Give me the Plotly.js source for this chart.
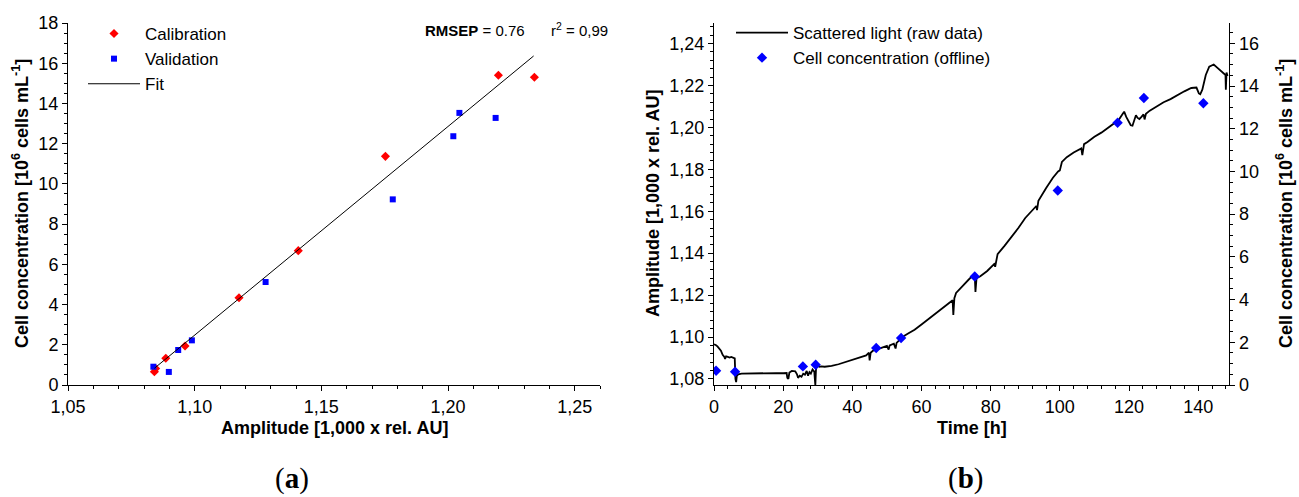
<!DOCTYPE html>
<html>
<head>
<meta charset="utf-8">
<script src="https://cdn.plot.ly/plotly-3.0.1.min.js"></script>
<style>html,body{margin:0;padding:0;background:#fff;}#chart{width:1299px;height:497px;}</style>
</head>
<body>
<div id="chart"></div>
<script>
// ---- Panel (a): calibration / validation ----
const calibAmp = [1.0841, 1.0846, 1.0886, 1.0962, 1.1175, 1.1409, 1.1753, 1.2199, 1.2341];
const calibConc = [0.66, 0.82, 1.33, 1.94, 4.34, 6.68, 11.37, 15.40, 15.30];
const validAmp = [1.0837, 1.0898, 1.0935, 1.0989, 1.1280, 1.1782, 1.2021, 1.2045, 1.2188];
const validConc = [0.91, 0.65, 1.74, 2.22, 5.12, 9.23, 12.37, 13.53, 13.28];
const fitAmp = [1.0841, 1.2338];
const fitConc = [0.83, 16.36];

// ---- Panel (b): time course ----
const timeRaw = [0,0.5,1,1.5,2,2.5,3,3.2,3.5,4,4.5,5,5.5,6.0,6.2,6.4,6.6,7,8,10,12,14,16,18,20,21,21.2,21.5,21.8,22.5,23.5,24,24.3,24.8,25.3,25.8,26.3,26.8,27.2,27.6,28,28.5,29,29.3,29.5,30,30.5,31,32,34,36,38,40,42,44,44.8,45,45.3,46,47,48,49,50,50.5,50.8,52,52.5,52.8,53.5,54.5,56,58,60,62,64,66,68,69,69.2,69.5,70,72,74,75.4,75.6,75.9,77,79,81,81.3,82,84,86,88,90,92,93.2,93.4,93.8,96,98,99.5,100,100.6,102,104,106.2,106.5,107,108,110,112,114,116,117,118,118.6,119.2,119.9,120.5,121,121.6,122,122.5,123,123.6,124.2,124.5,124.9,126,128,130,132,134,136,138,139.5,140.2,140.6,141.2,142.2,143.2,144.5,145.5,146.5,147.5,147.9,148,148.2,148.5];
const ampRaw = [1.0965,1.0962,1.0955,1.0945,1.0935,1.0915,1.0905,1.0895,1.0908,1.0905,1.0902,1.0905,1.0900,1.0898,1.0800,1.0785,1.0815,1.0822,1.0825,1.0826,1.0825,1.0827,1.0826,1.0828,1.0827,1.0828,1.0805,1.0800,1.0830,1.0838,1.0836,1.0822,1.0805,1.0815,1.0810,1.0825,1.0820,1.0838,1.0815,1.0832,1.0825,1.0845,1.0835,1.0770,1.0850,1.0862,1.0858,1.0860,1.0858,1.0862,1.0870,1.0880,1.0890,1.0900,1.0912,1.0925,1.0888,1.0925,1.0935,1.0940,1.0945,1.0952,1.0958,1.0940,1.0960,1.0968,1.0945,1.0972,1.0985,1.1000,1.1015,1.1035,1.1060,1.1085,1.1110,1.1135,1.1160,1.1175,1.1105,1.1185,1.1210,1.1245,1.1280,1.1295,1.1215,1.1280,1.1290,1.1315,1.1348,1.1335,1.1395,1.1435,1.1475,1.1520,1.1568,1.1605,1.1625,1.1605,1.1650,1.1710,1.1760,1.1790,1.1795,1.1835,1.1858,1.1880,1.1900,1.1868,1.1920,1.1930,1.1955,1.1975,1.1998,1.2020,1.2035,1.2060,1.2075,1.2050,1.2025,1.2010,1.2008,1.2045,1.2058,1.2045,1.2040,1.2050,1.2062,1.2038,1.2065,1.2080,1.2100,1.2120,1.2135,1.2155,1.2172,1.2188,1.2190,1.2162,1.2158,1.2180,1.2250,1.2290,1.2300,1.2285,1.2272,1.2258,1.2250,1.2180,1.2262,1.2245];
const timeOffline = [0.6, 6.1, 25.7, 29.4, 46.9, 54.1, 75.4, 99.4, 116.7, 124.3, 141.5];
const concOffline = [0.67, 0.62, 0.87, 0.95, 1.73, 2.20, 5.08, 9.11, 12.28, 13.44, 13.19];

// ---- Text ----
const legendNames = ['Calibration', 'Validation', 'Fit', 'Scattered light (raw data)', 'Cell concentration (offline)'];
const concTitle = 'Cell concentration [10<sup>6</sup> cells mL<sup>-1</sup>]';
const ampTitle = 'Amplitude [1,000 x rel. AU]';
const timeTitle = 'Time [h]';

const W = 1299, H = 497;
const px = v => v / W;
const py = v => 1 - v / H;
const FONT = 'Arial, Liberation Sans, sans-serif';
const fs = 18;
const lfs = 17;

const traces = [
  {x: calibAmp, y: calibConc, type: 'scatter', mode: 'markers', name: legendNames[0],
   marker: {symbol: 'diamond', size: 7, color: '#ff0000'}, xaxis: 'x', yaxis: 'y', legend: 'legend'},
  {x: validAmp, y: validConc, type: 'scatter', mode: 'markers', name: legendNames[1],
   marker: {symbol: 'square', size: 6, color: '#0000ff'}, xaxis: 'x', yaxis: 'y', legend: 'legend'},
  {x: fitAmp, y: fitConc, type: 'scatter', mode: 'lines', name: legendNames[2],
   line: {color: '#000', width: 1}, xaxis: 'x', yaxis: 'y', legend: 'legend'},
  {x: timeRaw, y: ampRaw, type: 'scatter', mode: 'lines', name: legendNames[3],
   line: {color: '#000', width: 1.8}, xaxis: 'x2', yaxis: 'y2', legend: 'legend2'},
  {x: timeOffline, y: concOffline, type: 'scatter', mode: 'markers', name: legendNames[4],
   marker: {symbol: 'diamond', size: 8, color: '#0000ff'}, xaxis: 'x2', yaxis: 'y3', legend: 'legend2'}
];

const axBase = {
  showgrid: false, zeroline: false, showline: true, linecolor: '#000', linewidth: 1,
  ticks: 'outside', ticklen: 5, tickwidth: 1, tickcolor: '#000',
  tickfont: {family: FONT, size: fs, color: '#000'}
};
const minorBase = {ticks: 'outside', ticklen: 3, tickwidth: 1, tickcolor: '#000', showgrid: false};

const yDom = [1 - 385 / H, 1 - 23 / H];

const layout = {
  width: W, height: H,
  margin: {l: 0, r: 0, t: 0, b: 0},
  paper_bgcolor: '#fff', plot_bgcolor: '#fff',
  separators: ',.',
  font: {family: FONT, color: '#000'},
  xaxis: Object.assign({}, axBase, {domain: [px(68), px(600)], range: [1.05, 1.26], dtick: 0.05, tick0: 1.05,
    tickformat: '.2f', anchor: 'y', minor: Object.assign({dtick: 0.01}, minorBase)}),
  yaxis: Object.assign({}, axBase, {domain: yDom, range: [0, 18], dtick: 2, anchor: 'x',
    minor: Object.assign({dtick: 0.5}, minorBase)}),
  xaxis2: Object.assign({}, axBase, {domain: [px(714), px(1229.3)], range: [0, 149], dtick: 20, anchor: 'y2',
    minor: Object.assign({dtick: 4}, minorBase)}),
  yaxis2: Object.assign({}, axBase, {domain: yDom, range: [1.0771, 1.2498], dtick: 0.02, tick0: 1.08,
    tickformat: '.2f', anchor: 'x2', minor: Object.assign({dtick: 0.004}, minorBase)}),
  yaxis3: Object.assign({}, axBase, {domain: yDom, range: [0, 16.95], dtick: 2, anchor: 'x2',
    overlaying: 'y2', side: 'right', minor: Object.assign({dtick: 0.5}, minorBase)}),
  showlegend: true,
  legend: {x: px(83), y: py(16), xanchor: 'left', yanchor: 'top', bgcolor: 'rgba(0,0,0,0)',
    itemwidth: 52, font: {family: FONT, size: lfs, color: '#000'}, tracegroupgap: 0},
  legend2: {x: px(731), y: py(15), xanchor: 'left', yanchor: 'top', bgcolor: 'rgba(0,0,0,0)',
    itemwidth: 52, font: {family: FONT, size: lfs, color: '#000'}, tracegroupgap: 0},
  annotations: [
    {text: '<b>RMSEP</b> = 0.76', x: px(423), y: py(31), xref: 'paper', yref: 'paper', xanchor: 'left', yanchor: 'middle',
     showarrow: false, font: {family: FONT, size: 15, color: '#000'}},
    {text: 'r<sup>2</sup> = 0,99', x: px(549), y: py(30), xref: 'paper', yref: 'paper', xanchor: 'left', yanchor: 'middle',
     showarrow: false, font: {family: FONT, size: 15, color: '#000'}},
    {text: '<b>' + ampTitle + '</b>', x: px(334), y: py(428), xref: 'paper', yref: 'paper', xanchor: 'center', yanchor: 'middle',
     showarrow: false, font: {family: FONT, size: fs, color: '#000'}},
    {text: '<b>' + concTitle + '</b>', x: px(20), y: py(204), xref: 'paper', yref: 'paper', xanchor: 'center', yanchor: 'middle',
     textangle: -90, showarrow: false, font: {family: FONT, size: fs, color: '#000'}},
    {text: '<b>' + timeTitle + '</b>', x: px(971.5), y: py(428), xref: 'paper', yref: 'paper', xanchor: 'center', yanchor: 'middle',
     showarrow: false, font: {family: FONT, size: fs, color: '#000'}},
    {text: '<b>' + ampTitle + '</b>', x: px(653), y: py(204), xref: 'paper', yref: 'paper', xanchor: 'center', yanchor: 'middle',
     textangle: -90, showarrow: false, font: {family: FONT, size: fs, color: '#000'}},
    {text: '<b>' + concTitle + '</b>', x: px(1284), y: py(204), xref: 'paper', yref: 'paper', xanchor: 'center', yanchor: 'middle',
     textangle: -90, showarrow: false, font: {family: FONT, size: fs, color: '#000'}},
    {text: '(<b>a</b>)', x: px(292), y: py(478), xref: 'paper', yref: 'paper', xanchor: 'center', yanchor: 'middle',
     showarrow: false, font: {family: 'Liberation Serif, Times New Roman, serif', size: 29, color: '#000'}},
    {text: '(<b>b</b>)', x: px(965), y: py(478), xref: 'paper', yref: 'paper', xanchor: 'center', yanchor: 'middle',
     showarrow: false, font: {family: 'Liberation Serif, Times New Roman, serif', size: 29, color: '#000'}}
  ]
};

Plotly.newPlot('chart', traces, layout, {staticPlot: true, displayModeBar: false});
</script>
</body>
</html>
